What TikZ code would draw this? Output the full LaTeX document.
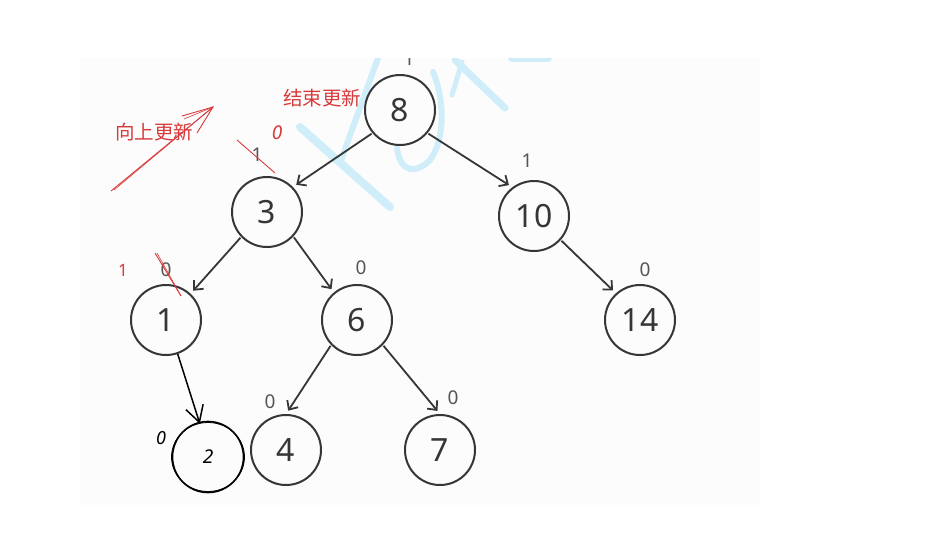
\documentclass[tikz,border=0pt]{standalone}
\usepackage{fontspec}
\setmainfont{Noto Sans}
\newfontfamily\cjk{Noto Sans CJK SC}
\usetikzlibrary{arrows.meta}
\definecolor{ink}{HTML}{363636}
\definecolor{lbl}{HTML}{555555}
\definecolor{pen}{HTML}{D83B3B}
\definecolor{wm}{HTML}{D0EEFA}
\definecolor{paper}{HTML}{FCFCFC}
\begin{document}
\begin{tikzpicture}[x=1pt,y=-1pt,
  tree/.style={circle,draw=ink,line width=2pt,minimum size=70pt,inner sep=0pt,font=\fontsize{32}{32}\selectfont,text=ink},
  edge/.style={draw=ink,line width=1.8pt,-{Straight Barb[length=7pt,width=13pt]},shorten >=4pt,shorten <=1pt},
  cnt/.style={text=lbl,font=\fontsize{19}{19}\selectfont,inner sep=0pt},
  note/.style={text=pen,font=\cjk\fontsize{19.5}{19.5}\selectfont,inner sep=0pt},
  wmk/.style={draw=wm,line width=7pt,line cap=round},
  redline/.style={draw=pen,line width=0.9pt}]
\useasboundingbox (0,0) rectangle (940,555);
\fill[white] (0,0) rectangle (940,555);
\fill[paper] (80,58) rectangle (760,505);
% watermark
\begin{scope}
\clip (80,58) rectangle (760,505);
\draw[wmk,line width=8pt] (300,127) -- (390,207);
\draw[wmk,line width=6pt] (378,58) -- (340,163);
\draw[wmk,line width=6pt] (433,72) .. controls (445,100) and (445,140) .. (430,160);
\draw[wmk,line width=6pt] (397,148) .. controls (400,172) and (415,175) .. (430,160);
\draw[wmk] (455,60) -- (505,108);
\draw[wmk,line width=5pt] (452,95) -- (462,62);
\draw[wmk,line width=8pt] (512,58) -- (548,58);
\node[cnt] (t8) at (409,59) {1};
\end{scope}
% tree nodes
\node[tree] (n8) at (400,110) {8};
\node[tree] (n3) at (267,212) {3};
\node[tree] (n10) at (534,216) {10};
\node[tree] (n1) at (166,320) {1};
\node[tree] (n6) at (357,320) {6};
\node[tree] (n14) at (640,320) {14};
\node[tree] (n4) at (286,450) {4};
\node[tree] (n7) at (440,450) {7};
\node[circle,draw=black,line width=1.6pt,minimum size=71pt,inner sep=0pt] (n2) at (208,457) {\fontsize{19}{19}\selectfont\itshape 2};
\draw[black,line width=0.8pt] (n2.center) ellipse (36.5pt and 34.5pt);
% edges
\draw[edge] (n8.220) -- (n3.44);
\draw[edge] (n8.320) -- (n10.127);
\draw[edge] (n3.224) -- (n1.47);
\draw[edge] (n3.317) -- (n6.130);
\draw[edge] (n10.318) -- (n14.132);
\draw[edge] (n6.224) -- (n4.90);
\draw[edge] (n6.316) -- (n7.90);
\draw[black,line width=1.5pt,-{Straight Barb[length=16pt,width=18pt]},shorten >=-2pt] (n1.289) -- (n2.104);
% counts
\node[cnt] (c3) at (257,155) {1};
\node[cnt] (c10) at (527,161) {1};
\node[cnt] (c1) at (166,270) {0};
\node[cnt] (c6) at (361,268) {0};
\node[cnt] (c14) at (645,270) {0};
\node[cnt] (c4) at (270,402) {0};
\node[cnt] (c7) at (453,398) {0};
\node[text=black,font=\fontsize{18}{18}\selectfont\itshape,inner sep=0pt] (c2) at (161,438) {0};
% red annotations
\node[text=pen,font=\fontsize{19}{19}\selectfont\itshape,inner sep=0pt] (r3) at (277,133) {0};
\node[text=pen,font=\fontsize{17}{17}\selectfont,inner sep=0pt] (r1) at (123,270) {1};
\node[note] (end) at (322,98) {结束更新};
\node[note] (up) at (154,132) {向上更新};
\coordinate (rs) at (111,191);
\coordinate (rs2) at (114,190);
\coordinate (rt) at (213,107);
\coordinate (rb1) at (182,116);
\coordinate (rb2) at (197,133);
\draw[redline] (rs) -- (rt);
\draw[redline,line width=0.6pt] (rs2) -- (rt);
\draw[redline] (rb1) -- (rt) -- (rb2);
\draw[redline,line width=0.6pt] (rb1) ++(2,3) -- (rt);
\coordinate (s3a) at (237,140);
\coordinate (s3b) at (275,173);
\draw[redline] (s3a) -- (s3b);
\coordinate (s1a) at (155,253);
\coordinate (s1b) at (181,296);
\coordinate (s1c) at (157,253);
\draw[redline] (s1a) -- (s1b);
\draw[redline,line width=0.6pt] (s1c) -- (s1b);
\end{tikzpicture}
\end{document}
